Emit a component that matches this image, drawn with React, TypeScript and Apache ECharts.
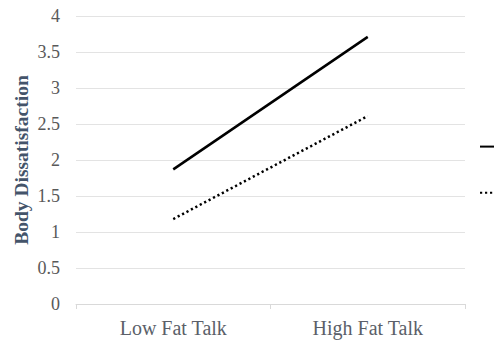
import React, { useEffect, useRef } from "react";
import * as echarts from "echarts";

const categories = ["Low Fat Talk", "High Fat Talk"];
const seriesNames = ["Series A", "Series B"];
const solidValues = [1.87, 3.71];
const dottedValues = [1.18, 2.61];
const yTicks = { min: 0, max: 4, interval: 0.5 };

const FONT = "Liberation Serif";

export default function App() {
  const ref = useRef<HTMLDivElement>(null);
  useEffect(() => {
    if (!ref.current) return;
    const chart = echarts.init(ref.current, undefined, { renderer: "svg" });
    chart.setOption({
      animation: false,
      backgroundColor: "#ffffff",
      textStyle: { fontFamily: FONT },
      grid: { left: 76, right: 29, top: 16, bottom: 36 },
      legend: {
        orient: "vertical",
        left: 474,
        top: 136,
        itemGap: 35,
        itemWidth: 26,
        itemHeight: 14,
        itemStyle: { opacity: 0 },
        formatter: () => " ",
        textStyle: { fontSize: 1 },
        data: seriesNames,
      },
      xAxis: {
        type: "category",
        data: categories,
        boundaryGap: true,
        axisLine: { lineStyle: { color: "#d9d9d9", width: 1 } },
        axisTick: { show: true, length: 5, lineStyle: { color: "#d9d9d9" } },
        axisLabel: {
          color: "#5b5f69",
          fontFamily: FONT,
          fontSize: 20,
          margin: 14,
        },
      },
      yAxis: {
        type: "value",
        min: yTicks.min,
        max: yTicks.max,
        interval: yTicks.interval,
        name: "Body Dissatisfaction",
        nameLocation: "middle",
        nameGap: 45,
        nameMoveOverlap: false,
        nameTextStyle: {
          color: "#44546a",
          fontFamily: FONT,
          fontSize: 19.5,
          fontWeight: "bold",
        },
        axisLine: { show: false },
        axisTick: { show: false },
        splitLine: { lineStyle: { color: "#e3e3e3", width: 1 } },
        axisLabel: {
          color: "#595959",
          fontFamily: FONT,
          fontSize: 18,
          margin: 16,
        },
      },
      series: [
        {
          name: seriesNames[0],
          type: "line",
          data: solidValues,
          symbol: "none",
          lineStyle: { color: "#000000", width: 2.5, type: "solid" },
          itemStyle: { color: "#000000" },
        },
        {
          name: seriesNames[1],
          type: "line",
          data: dottedValues,
          symbol: "none",
          lineStyle: { color: "#000000", width: 2.5, type: [2.2, 2.8] },
          itemStyle: { color: "#000000" },
        },
      ],
    });
    return () => chart.dispose();
  }, []);
  return (
    <div
      ref={ref}
      style={{ position: "absolute", left: 0, top: 0, width: 494, height: 340 }}
    />
  );
}
